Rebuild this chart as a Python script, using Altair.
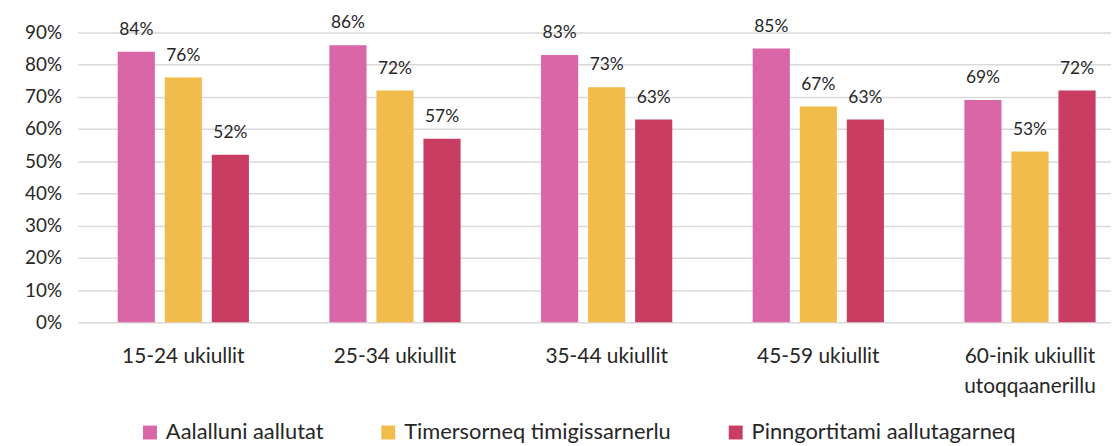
import altair as alt
import pandas as pd

groups = ["15-24 ukiullit", "25-34 ukiullit", "35-44 ukiullit", "45-59 ukiullit", "60-inik ukiullit\nutoqqaanerillu"]
series = ["Aalalluni aallutat", "Timersorneq timigissarnerlu", "Pinngortitami aallutagarneq"]
colors = ["#D966A7", "#F2BC4C", "#C93D63"]
v_aalalluni = [0.84, 0.86, 0.83, 0.85, 0.69]
v_timersorneq = [0.76, 0.72, 0.73, 0.67, 0.53]
v_pinngortitami = [0.52, 0.57, 0.63, 0.63, 0.72]

rows = []
for s, vals in zip(series, [v_aalalluni, v_timersorneq, v_pinngortitami]):
    for g, v in zip(groups, vals):
        rows.append({"group": g, "series": s, "value": v})
df = pd.DataFrame(rows)

FONT = "Lato"
TXT = "#262626"

base = alt.Chart(df).encode(
    x=alt.X("group:N", sort=groups, title=None,
            scale=alt.Scale(range=[0, 1066], paddingInner=0.38, paddingOuter=0.19),
            axis=alt.Axis(labelAngle=0, labelExpr="split(datum.label, '\\n')",
                          labelFontSize=21, labelFont=FONT, labelColor=TXT,
                          labelPadding=23, ticks=False, domain=False,
                          labelLineHeight=31)),
    xOffset=alt.XOffset("series:N", sort=series,
                        scale=alt.Scale(paddingInner=0.21, paddingOuter=0)),
    y=alt.Y("value:Q", title=None,
            scale=alt.Scale(domain=[0, 0.9], nice=False),
            axis=alt.Axis(format=".0%", values=[i / 10 for i in range(10)],
                          labelFontSize=19, labelFont=FONT, labelColor=TXT,
                          labelPadding=16, ticks=False, domain=False,
                          gridColor="#D9D9D9", gridWidth=1.5)),
)

bars = base.mark_bar().encode(
    color=alt.Color("series:N", sort=series, title=None,
                    scale=alt.Scale(domain=series, range=colors),
                    legend=alt.Legend(orient="none", direction="horizontal",
                                      legendX=62, legendY=392,
                                      symbolType="square", symbolSize=196,
                                      symbolStrokeWidth=0, labelFontSize=22,
                                      labelFont=FONT, labelColor=TXT,
                                      columnPadding=54, labelOffset=5,
                                      labelLimit=400)),
)

labels = base.mark_text(baseline="bottom", dy=-13, fontSize=17.5, font=FONT,
                        color=TXT).encode(
    text=alt.Text("value:Q", format=".0%"),
)

chart = alt.layer(bars, labels).properties(
    width=1041, height=292,
    padding={"left": 70, "top": 23, "right": 0, "bottom": 123},
    autosize=alt.AutoSizeParams(type="none"),
).configure_view(stroke=None)

chart.save("out.html", embed_options={"renderer": "svg", "actions": False})
